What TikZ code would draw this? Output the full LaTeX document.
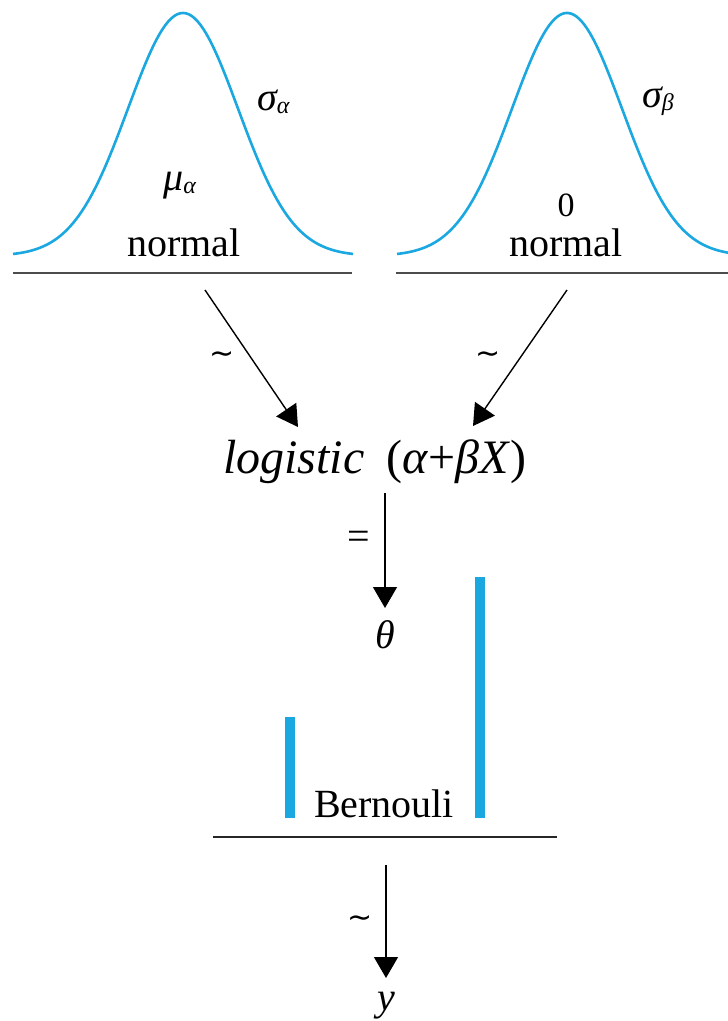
\documentclass[tikz,border=0pt]{standalone}
\usepackage{fontspec}
\newfontfamily\tnr{Liberation Serif}
\newfontfamily\symfnt{DejaVu Sans}
\usetikzlibrary{arrows.meta}
\definecolor{curveblue}{RGB}{27,168,224}
\newcommand{\sbs}[1]{\raisebox{-3pt}{\tnr\fontsize{24}{26}\selectfont\itshape #1}}
\begin{document}
\begin{tikzpicture}[x=1pt,y=-1pt,
  bell/.style={draw=curveblue, line width=2.6pt},
  rulestyle/.style={draw=black!70, line width=2pt},
  arr/.style={draw=black, line width=1.4pt, -{Triangle[length=21pt,width=24pt]}},
  lbl/.style={font=\tnr\fontsize{40}{44}\selectfont, inner sep=0pt},
  biglbl/.style={font=\tnr\fontsize{48}{52}\selectfont, inner sep=0pt},
  rel/.style={font=\symfnt\fontsize{30}{32}\selectfont, inner sep=0pt},
  barstyle/.style={fill=curveblue, draw=none}
]
\useasboundingbox (0,0) rectangle (728,1021);
% bell curves
\draw[bell] plot[domain=-170:170,samples=121,smooth] ({183+\x},{256-243*exp(-0.5*(\x/55)^2)});
\draw[bell] plot[domain=-170:161,samples=121,smooth] ({567+\x},{256-243*exp(-0.5*(\x/55)^2)});
% rules
\draw[rulestyle] (13,273) -- (352,273);
\draw[rulestyle] (396,273) -- (728,273);
\draw[rulestyle, draw=black!85] (213,837) -- (557,837);
% labels top
\node[lbl, anchor=base west] (sa) at (257,110) {\itshape σ\sbs{α}};
\node[lbl, anchor=base west] (ma) at (163,190) {\itshape μ\sbs{α}};
\node[lbl, anchor=base] (n1) at (184,256) {normal};
\node[lbl, anchor=base west] (sb) at (642,107) {\itshape σ\sbs{β}};
\node[lbl, anchor=base, font=\tnr\fontsize{34}{38}\selectfont] (zero) at (566,216) {0};
\node[lbl, anchor=base] (n2) at (566,256) {normal};
% logistic
\node[biglbl, anchor=base west] (logi) at (223,473) {\itshape logistic};
\node[biglbl, anchor=base west] (expr) at (386,473) {(\textit{α}+\textit{βX})};
% arrows
\coordinate (l1s) at (205,290);
\coordinate (l1e) at (298,427);
\coordinate (r1s) at (567,290);
\coordinate (r1e) at (473,426);
\draw[arr] (l1s) -- (l1e);
\draw[arr] (r1s) -- (r1e);
\node[rel] (t1) at (222,358) {∼};
\node[rel] (t2) at (488,358) {∼};
% theta
\coordinate (v1s) at (385,493);
\coordinate (v1e) at (385,608);
\draw[arr] (v1s) -- (v1e);
\node[lbl] (eq) at (359,540) {=};
\node[lbl, anchor=base] (theta) at (385,648) {\itshape θ};
% bernoulli bars
\fill[barstyle] (285,717) rectangle (295,818);
\fill[barstyle] (475,577) rectangle (485,818);
\node[lbl, anchor=base] (bern) at (384,817) {Bernouli};
% y
\coordinate (v2s) at (386,865);
\coordinate (v2e) at (386,978);
\draw[arr] (v2s) -- (v2e);
\node[rel] (t3) at (360,921) {∼};
\node[lbl, anchor=base] (yy) at (386,1010) {\itshape y};
\end{tikzpicture}
\end{document}
